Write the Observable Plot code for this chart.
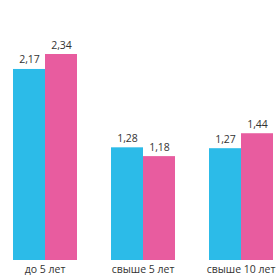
<!DOCTYPE html>
<html>
<head>
<meta charset="utf-8">
<script src="https://cdn.jsdelivr.net/npm/d3@7"></script>
<script src="https://cdn.jsdelivr.net/npm/@observablehq/plot@0.6"></script>
<style>
  html, body { margin: 0; padding: 0; background: #fff; }
  #chart svg { display: block; }
</style>
</head>
<body>
<div id="chart"></div>
<script>
const categories = ["до 5 лет", "свыше 5 лет", "свыше 10 лет"];
const series = ["A", "B"];
const valuesA = [2.17, 1.28, 1.27];
const valuesB = [2.34, 1.18, 1.44];
const colors = ["#2cbbe8", "#e85c9f"];

const data = [];
categories.forEach((c, i) => {
  data.push({cat: c, s: series[0], v: valuesA[i]});
  data.push({cat: c, s: series[1], v: valuesB[i]});
});
const fmt = v => v.toFixed(2).replace(".", ",");

const chart = Plot.plot({
  width: 278,
  height: 279,
  marginLeft: 11,
  marginRight: 5,
  marginTop: 54,
  marginBottom: 19,
  style: {fontFamily: "'Open Sans', sans-serif", fontSize: "10px", color: "#333"},
  fx: {domain: categories, padding: 0.34, label: null, axis: null},
  x: {domain: series, padding: 0, axis: null},
  y: {domain: [0, 2.34], axis: null},
  color: {domain: series, range: colors},
  marks: [
    Plot.barY(data, {fx: "cat", x: "s", y: "v", fill: "s"}),
    Plot.text(data, {fx: "cat", x: "s", y: "v", text: d => fmt(d.v), dy: -6, lineAnchor: "bottom", fill: "#333", fontSize: 10.5}),
    Plot.axisFx({anchor: "bottom", tickSize: 0, tickPadding: 5, fontSize: 10.5, fill: "#333", label: null})
  ]
});
document.getElementById("chart").appendChild(chart);
</script>
</body>
</html>
